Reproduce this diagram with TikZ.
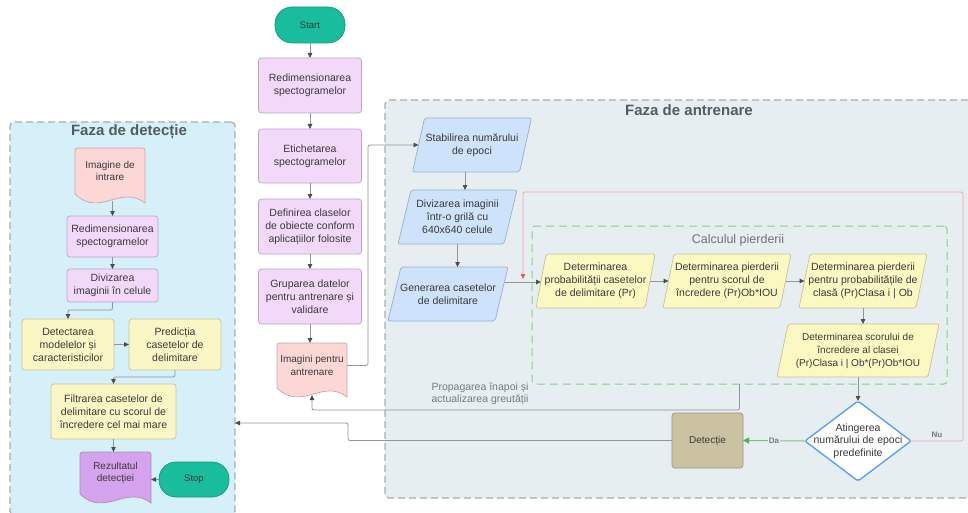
\documentclass[tikz,border=0pt]{standalone}
\usepackage{fontspec}
\setmainfont{Liberation Sans}
\usetikzlibrary{arrows.meta,calc}
\pgfdeclarelayer{back}
\pgfdeclarelayer{mid}
\pgfsetlayers{back,mid,main}
\definecolor{txtc}{HTML}{3A3A3A}
\definecolor{purpf}{HTML}{F2D9FA}
\definecolor{purpd}{HTML}{B9A6C2}
\definecolor{pinkf}{HTML}{FDD6D6}
\definecolor{pinkd}{HTML}{C4A9A9}
\definecolor{yelf}{HTML}{FBF7C5}
\definecolor{yeld}{HTML}{C7C39A}
\definecolor{tealf}{HTML}{19BC9C}
\definecolor{teald}{HTML}{12987E}
\definecolor{rezf}{HTML}{D5A3EE}
\definecolor{rezd}{HTML}{A98BBE}
\definecolor{bluef}{HTML}{CFE2FB}
\definecolor{blued}{HTML}{98AFC8}
\definecolor{yelf2}{HTML}{FCF8C2}
\definecolor{detf}{HTML}{CBC2A2}
\definecolor{detd}{HTML}{9B957F}
\definecolor{decd}{HTML}{5AA2F2}
\definecolor{detpanelf}{HTML}{D6F0FA}
\definecolor{trainpanelf}{HTML}{E6EEF1}
\definecolor{paneld}{HTML}{A6AEB3}
\definecolor{greend}{HTML}{86CF86}
\definecolor{lineg}{HTML}{8F959A}
\definecolor{arrowc}{HTML}{4D4D4D}
\definecolor{redl}{HTML}{F2A6A6}
\definecolor{redarrow}{HTML}{E85A5A}
\definecolor{greenl}{HTML}{70CC70}
\definecolor{greenarrow}{HTML}{45B845}
\definecolor{titlec}{HTML}{555B5F}
\definecolor{labelc}{HTML}{767B80}
\newcommand\docdraw[3]{%
  \draw[fill=#2, draw=#3, line width=0.7pt]
    (#1.south west) [rounded corners=2.5pt] -- (#1.north west) -- (#1.north east) [sharp corners] -- ($(#1.south east)+(0,9)$)
    .. controls ($(#1.south west)!0.65!(#1.south east)+(0,-10)$) and ($(#1.south west)!0.35!(#1.south east)+(0,24)$) .. (#1.south west) -- cycle;}
\newcommand\paradraw[4]{%
  \draw[fill=#3, draw=#4, line width=0.7pt, rounded corners=2pt]
    ($(#1.north west)+(#2/2,0)$) -- ($(#1.north east)+(#2/2,0)$) -- ($(#1.south east)+(-#2/2,0)$) -- ($(#1.south west)+(-#2/2,0)$) -- cycle;}
\newcommand\diadraw[3]{%
  \draw[fill=#2, draw=#3, line width=1.4pt, rounded corners=2pt]
    (#1.north) -- (#1.east) -- (#1.south) -- (#1.west) -- cycle;}
\begin{document}
\begin{tikzpicture}[x=1pt,y=-1pt,
  base/.style={font=\fontsize{10.5}{13}\selectfont, text=txtc, inner sep=0pt, outer sep=0pt, align=center},
  purp/.style={base, draw=purpd, fill=purpf, rounded corners=3pt, line width=0.7pt},
  yel/.style={base, draw=yeld, fill=yelf, rounded corners=3pt, line width=0.7pt},
  term/.style={base, draw=teald, fill=tealf, rounded corners=17pt, line width=0.7pt, font=\fontsize{9.5}{11}\selectfont},
  doc/.style={base, minimum width=70, font=\fontsize{10}{12.5}\selectfont},
  pnode/.style={base},
  panel/.style={draw=paneld, line width=1.3pt, dash pattern=on 7pt off 4pt, rounded corners=4pt, inner sep=0pt, outer sep=0pt},
  calcbox/.style={draw=greend, line width=1pt, dash pattern=on 8pt off 5pt, rounded corners=3pt, inner sep=0pt, outer sep=0pt},
  title/.style={font=\bfseries\fontsize{15}{18}\selectfont, text=titlec, inner sep=0pt},
  subtitle/.style={font=\fontsize{12.5}{15}\selectfont, text=titlec!85, inner sep=0pt},
  conn/.style={draw=lineg, line width=0.8pt, rounded corners=2pt, -{Triangle[length=5pt,width=4.5pt,color=arrowc]}},
  redconn/.style={draw=redl, line width=0.8pt, rounded corners=2pt, -{Triangle[length=5pt,width=4.5pt,color=redarrow]}},
  greenconn/.style={draw=greenl, line width=1pt, -{Triangle[length=6pt,width=6pt,color=greenarrow]}},
  lbl/.style={font=\bfseries\fontsize{8}{10}\selectfont, text=labelc, inner sep=1pt},
  lbl2/.style={font=\fontsize{10.5}{12.5}\selectfont, text=labelc, align=center, inner sep=0pt}
]
\useasboundingbox (0,0) rectangle (968,513);

\begin{pgfonlayer}{back}
\node[panel, fill=detpanelf, minimum width=225, minimum height=393] (detpanel) at (122.5,318.5) {};
\node[panel, fill=trainpanelf, minimum width=587, minimum height=398] (trainpanel) at (678.5,299) {};
\node[calcbox, minimum width=415, minimum height=158] (calc) at (739.5,305) {};
\end{pgfonlayer}

% titles
\node[title] (dettitle) at (129,132) {Faza de detecție};
\node[title] (traintitle) at (689,110) {Faza de antrenare};
\node[subtitle] (calctitle) at (738,240) {Calculul pierderii};

% left column (detection)
\node[doc, minimum height=46] (imgin) at (110,171) {Imagine de\\intrare};
\node[purp, minimum width=91, minimum height=41] (redim2) at (112.5,236.5) {Redimensionarea\\spectogramelor};
\node[purp, minimum width=91, minimum height=33] (diviz2) at (112.5,285.5) {Divizarea\\imaginii în celule};
\node[yel, minimum width=92, minimum height=51] (detect) at (68,344.5) {Detectarea\\modelelor și\\caracteristicilor};
\node[yel, minimum width=92, minimum height=51] (predict) at (175,344.5) {Predicția\\casetelor de\\delimitare};
\node[yel, minimum width=125, minimum height=55] (filtr) at (113.5,411.5) {Filtrarea casetelor de\\delimitare cu scorul de\\încredere cel mai mare};
\node[doc, minimum width=71, minimum height=42] (rezult) at (115.5,473) {Rezultatul\\detecției};
\node[term, minimum width=70, minimum height=35] (stop) at (194,479.5) {Stop};

% middle column
\node[term, minimum width=70, minimum height=36] (start) at (310,25) {Start};
\node[purp, minimum width=103, minimum height=55] (redim1) at (310,85.5) {Redimensionarea\\spectogramelor};
\node[purp, minimum width=103, minimum height=54] (etich) at (310,156) {Etichetarea\\spectogramelor};
\node[purp, minimum width=103, minimum height=55] (defin) at (310,226.5) {Definirea claselor\\de obiecte conform\\aplicațiilor folosite};
\node[purp, minimum width=103, minimum height=55] (grup) at (310,296.5) {Gruparea datelor\\pentru antrenare și\\validare};
\node[doc, minimum height=45] (imgtr) at (312,365.5) {Imagini pentru\\antrenare};

% right (training)
\node[pnode, minimum width=107, minimum height=54] (stab) at (472,145) {Stabilirea numărului\\de epoci};
\node[pnode, minimum width=106, minimum height=54] (divgr) at (457.5,217) {Divizarea imaginii\\într-o grilă cu\\640x640 celule};
\node[pnode, minimum width=107, minimum height=54] (gen) at (448,294) {Generarea casetelor\\de delimitare};
\node[pnode, minimum width=109, minimum height=54] (d1) at (595.5,281) {Determinarea\\probabilității casetelor\\de delimitare (Pr)};
\node[pnode, minimum width=117, minimum height=54] (d2) at (727,281) {Determinarea pierderii\\pentru scorul de\\încredere (Pr)Ob*IOU};
\node[pnode, minimum width=117, minimum height=54] (d3) at (863,281) {Determinarea pierderii\\pentru probabilitățile de\\clasă (Pr)Clasa i | Ob};
\node[pnode, minimum width=151, minimum height=53, font=\fontsize{10}{13}\selectfont] (d4) at (858,350.5) {Determinarea scorului de\\încredere al clasei\\(Pr)Clasa i | Ob*(Pr)Ob*IOU};
\node[pnode, minimum width=106, minimum height=80, font=\fontsize{10.5}{12.5}\selectfont] (dec) at (858,441) {Atingerea\\numărului de epoci\\predefinite};
\node[base, draw=detd, fill=detf, rounded corners=3pt, line width=0.7pt, minimum width=71, minimum height=55, font=\fontsize{10}{12}\selectfont] (det) at (707.5,440.5) {Detecție};

% custom shapes
\begin{pgfonlayer}{mid}
\docdraw{imgin}{pinkf}{pinkd}
\docdraw{imgtr}{pinkf}{pinkd}
\docdraw{rezult}{rezf}{rezd}
\paradraw{stab}{12}{bluef}{blued}
\paradraw{divgr}{13}{bluef}{blued}
\paradraw{gen}{13}{bluef}{blued}
\paradraw{d1}{10}{yelf2}{yeld}
\paradraw{d2}{11}{yelf2}{yeld}
\paradraw{d3}{11}{yelf2}{yeld}
\paradraw{d4}{11}{yelf2}{yeld}
\diadraw{dec}{white}{decd}
\end{pgfonlayer}

% coordinates for bends
\coordinate (lb1) at (112.5,310);
\coordinate (lb2) at (175,377);
\coordinate (ibend) at (368,145);
\coordinate (pbend) at (739.5,410);
\coordinate (dbend) at (348,423);
\coordinate (rtop) at (963,192);
\coordinate (rend) at (523,279);
\path (stab.south) ++(-7,0) coordinate (sa);
\path (gen.east) ++(3,-12) coordinate (ga);

% connectors: left
\draw[conn] ($(redim2.north |- imgin.south)+(0,7)$) -- (redim2.north);
\draw[conn] (redim2.south) -- (diviz2.north);
\draw[conn] (diviz2.south) -- (lb1) -| (detect.north);
\draw[conn] (detect.east) -- (predict.west);
\draw[conn] (predict.south) -- (lb2) -| (filtr.north);
\draw[conn] (filtr.south) -- (filtr.south |- rezult.north);
\draw[conn] (stop.west) -- (stop.west -| rezult.east);

% connectors: middle
\draw[conn] (start.south) -- (redim1.north);
\draw[conn] (redim1.south) -- (etich.north);
\draw[conn] (etich.south) -- (defin.north);
\draw[conn] (defin.south) -- (grup.north);
\draw[conn] (grup.south) -- (grup.south |- imgtr.north);
\draw[conn] (imgtr.east) -| (ibend) -- (stab.west);

% connectors: right
\draw[conn] (sa) -- (sa |- divgr.north);
\draw[conn] (divgr.south) -- (divgr.south |- gen.north);
\draw[conn] (ga) -- (ga -| d1.west);
\draw[conn] (d1.east) -- (d2.west);
\draw[conn] (d2.east) -- (d3.west);
\draw[conn] (d3.south) -- (d3.south |- d4.north);
\draw[conn] (d4.south) -- (dec.north);
\draw[greenconn] (dec.west) -- node[lbl, fill=trainpanelf] (dalbl) {Da} (det.east);
\draw[redconn] (dec.east) -| node[pos=0.25, above=2pt, lbl] (nulbl) {Nu} (rtop) -| (rend);
\draw[conn] (calc.south) -- (pbend) -| ($(imgtr.south)+(0,7)$);
\draw[conn] (det.west) -| (dbend) -- (dbend -| detpanel.east);

\node[lbl2] (proplbl) at (480,394) {Propagarea înapoi și\\actualizarea greutății};
\end{tikzpicture}
\end{document}
